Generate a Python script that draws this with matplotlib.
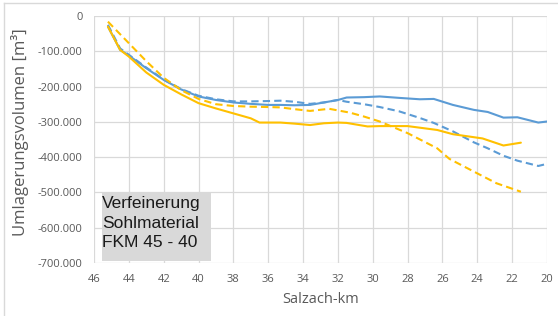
import matplotlib
matplotlib.use('Agg')
import matplotlib.pyplot as plt
from matplotlib.patches import Rectangle
from matplotlib.lines import Line2D
from matplotlib.ticker import FuncFormatter

# Werte in m³, Stationierung in Salzach-km
km_blue_solid = [45.2, 44.5, 44, 43, 42, 41, 40, 39, 38, 37, 36, 35.3, 34.5, 33.6, 32.8, 32,
                 31.5, 30.5, 29.6, 28.5, 27.3, 26.5, 25.4, 24.2, 23.4, 22.5, 21.7, 20.5, 20]
vol_blue_solid = [-30000, -96000, -112000, -148000, -181000, -208000, -228000, -238000, -245000,
                  -249000, -252000, -252000, -253000, -252000, -245000, -238000, -231000, -230000,
                  -228000, -232000, -236000, -235000, -252000, -266000, -272000, -288000, -287000,
                  -302000, -299000]

km_blue_dash = [45.2, 44.5, 44, 43, 42, 41, 40, 39, 38, 37, 36, 35.3, 34.5, 33.6, 32.8, 32,
                31.5, 30.5, 29.6, 28.5, 27.3, 26.5, 25.4, 24.2, 23.4, 22.5, 21.7, 20.5, 20]
vol_blue_dash = [-25000, -92000, -110000, -146000, -180000, -207000, -226000, -236000, -242000,
                 -242000, -241000, -240000, -243000, -249000, -245000, -238000, -243000, -250000,
                 -258000, -270000, -289000, -303000, -327000, -358000, -375000, -396000, -410000,
                 -425000, -419000]

km_yellow_solid = [45.2, 44.5, 44, 43, 42, 41, 40, 39, 38, 37, 36.5, 35.3, 34.5, 33.6, 32.8, 32,
                   31.5, 30.3, 29.6, 28, 26.3, 25.4, 23.7, 22.5, 21.5]
vol_yellow_solid = [-30000, -96000, -115000, -160000, -195000, -222000, -247000, -262000, -276000,
                    -290000, -302000, -302000, -305000, -309000, -304000, -302000, -303000, -313000,
                    -312000, -312000, -323000, -335000, -347000, -367000, -359000]

km_yellow_dash = [45.2, 44, 43, 42, 41, 40, 39, 38, 37, 36, 35.3, 34.5, 33.6, 32.5, 31.3, 30.5,
                  29.6, 28, 26.3, 25.6, 24, 22.9, 21.5]
vol_yellow_dash = [-16000, -77000, -128000, -175000, -210000, -235000, -250000, -255000, -257000,
                   -258000, -259000, -264000, -269000, -263000, -274000, -285000, -299000, -332000,
                   -375000, -405000, -446000, -474000, -498000]

x_ticks = list(range(46, 19, -2))
y_ticks = list(range(0, -700001, -100000))

BLUE = '#5B9BD5'
YELLOW = '#FFC000'
GRID = '#D9D9D9'
TXT = '#595959'

fig = plt.figure(figsize=(5.58, 3.16), dpi=100)
ax = fig.add_axes([94 / 558, 1 - 263 / 316, (547 - 94) / 558, (263 - 16) / 316])

ax.plot(km_blue_solid, vol_blue_solid, color=BLUE, lw=1.5, solid_capstyle='round')
ax.plot(km_blue_dash, vol_blue_dash, color=BLUE, lw=1.5, linestyle=(0, (3.5, 2)))
ax.plot(km_yellow_solid, vol_yellow_solid, color=YELLOW, lw=1.5, solid_capstyle='round')
ax.plot(km_yellow_dash, vol_yellow_dash, color=YELLOW, lw=1.5, linestyle=(0, (3.5, 2)))

ax.set_xlim(46, 20)
ax.set_ylim(-700000, 0)
ax.set_xticks(x_ticks)
ax.set_yticks(y_ticks)
ax.yaxis.set_major_formatter(FuncFormatter(lambda v, p: f'{v:,.0f}'.replace(',', '.')))
ax.grid(True, color=GRID, lw=0.9)
ax.set_axisbelow(True)
for s in ax.spines.values():
    s.set_visible(False)
ax.tick_params(length=0, labelsize=8, labelcolor=TXT, pad=8)
for lab in ax.get_xticklabels() + ax.get_yticklabels():
    lab.set_family('Open Sans')

ax.set_xlabel('Salzach-km', fontsize=10.5, color=TXT, family='Open Sans', labelpad=5)
fig.text(20 / 558, 1 - 132 / 316, 'Umlagerungsvolumen [m³]', rotation=90, fontsize=12,
         color=TXT, family='Open Sans', ha='center', va='center')

# Textfeld
fig.patches.append(Rectangle((102 / 558, 1 - 261 / 316), 109 / 558, 68 / 316,
                             transform=fig.transFigure, facecolor='#D9D9D9', edgecolor='none'))
fig.text(102 / 558, 1 - 196 / 316, 'Verfeinerung\nSohlmaterial\nFKM 45 - 40', fontsize=12.5,
         family='Liberation Sans', color='#1a1a1a', ha='left', va='top', linespacing=1.38)

# Rahmen des Diagrammbereichs
fig.lines.append(Line2D([4 / 558, 1], [1 - 3 / 316, 1 - 3 / 316], transform=fig.transFigure,
                        color=GRID, lw=1))
fig.lines.append(Line2D([4 / 558, 4 / 558], [0, 1 - 3 / 316], transform=fig.transFigure,
                        color=GRID, lw=1))

fig.savefig('out.png', dpi=100)
